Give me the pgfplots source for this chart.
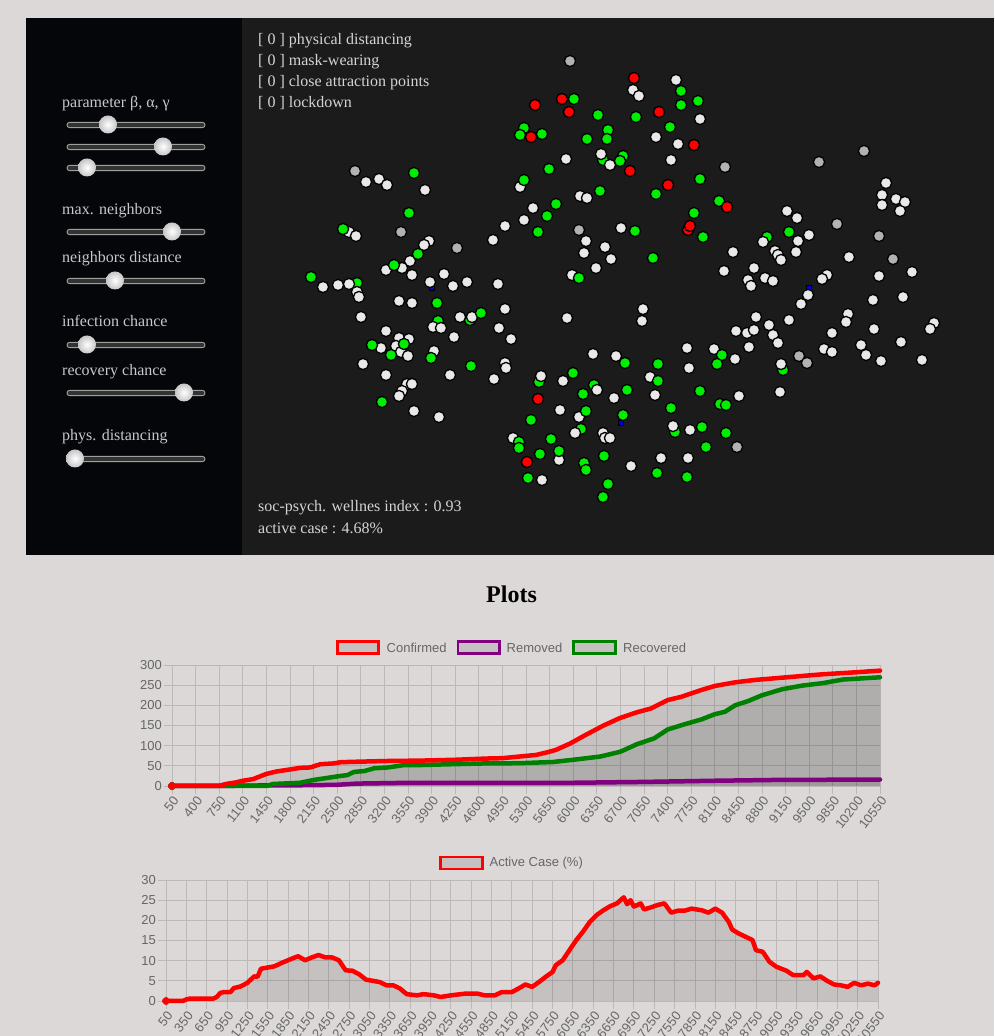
\documentclass[border=0pt]{standalone}
\usepackage{fontspec}
\setmainfont{Liberation Serif}
\newfontfamily\chartfont{Liberation Sans}
\usepackage{pgfplots}
\pgfplotsset{compat=1.18}
\usepackage{pgfplotstable}

\definecolor{bg}{HTML}{DCD8D8}
\definecolor{panelL}{HTML}{04060A}
\definecolor{panelR}{HTML}{1B1B1B}
\definecolor{uitext}{HTML}{D4D4D4}
\definecolor{lefttext}{HTML}{C8C8C8}
\definecolor{gridc}{HTML}{BDB8B8}
\definecolor{tickc}{HTML}{666666}
\definecolor{ptwhite}{HTML}{E8E8E8}
\definecolor{ptgray}{HTML}{B2B2B2}
\definecolor{ptgreen}{HTML}{00EE00}
\definecolor{ptred}{HTML}{FF0000}
\definecolor{ptblue}{HTML}{0000DD}
\definecolor{cgreen}{HTML}{008000}
\definecolor{cpurple}{HTML}{800080}

\pgfkeys{/pgf/number format/.cd,1000 sep={}}

\pgfplotstableread{
x y
366 182
379 179
387 185
425 190
349 232
356 236
429 241
424 245
493 240
410 261
386 270
402 268
412 275
444 274
430 282
453 286
467 282
498 284
323 287
338 285
349 284
633 90
639 96
676 80
700 119
656 137
678 144
566 159
601 154
610 165
671 160
520 187
580 196
587 198
533 208
524 220
505 226
621 228
586 241
584 253
605 247
611 259
733 252
596 268
572 275
724 271
748 280
886 183
882 195
896 199
905 202
882 205
900 211
787 211
797 218
809 235
763 242
798 241
775 251
778 255
781 260
796 252
849 257
754 268
765 278
773 281
751 286
827 275
822 279
879 276
912 272
357 292
359 297
399 301
412 303
361 317
386 331
433 327
441 328
460 317
472 317
454 337
499 328
381 348
399 338
409 339
396 346
401 352
408 356
434 351
363 364
386 375
450 375
494 379
407 384
412 384
402 391
399 396
414 411
439 417
505 309
567 318
643 309
642 321
511 339
736 331
747 333
749 347
593 354
616 356
687 348
714 349
735 359
689 368
505 363
506 368
541 376
563 381
650 377
597 390
614 398
655 395
739 396
560 410
579 417
575 433
673 426
690 430
513 438
603 433
605 438
610 438
559 460
631 466
661 458
688 458
542 480
808 295
801 304
873 300
903 297
756 317
789 320
848 314
846 322
934 323
930 329
769 325
754 330
773 335
778 343
832 333
874 329
824 349
832 352
861 345
866 355
881 361
901 342
922 360
781 364
780 392
}\tabWhite

\pgfplotstableread{
x y
570 61
355 171
401 232
457 248
579 230
725 167
864 151
819 162
837 224
879 236
893 259
799 356
807 363
737 447
}\tabGray

\pgfplotstableread{
x y
357 283
438 321
470 320
783 370
767 237
675 432
603 160
594 385
581 429
539 382
}\tabGreenUnder

\pgfplotstableread{
x y
414 173
409 213
343 229
418 254
394 265
311 277
681 91
681 105
698 101
574 99
598 115
636 117
670 127
524 128
520 135
542 134
608 130
607 139
587 139
549 169
623 156
620 161
524 180
700 179
656 194
600 191
556 204
547 216
538 232
635 231
719 201
694 213
703 237
653 258
579 278
789 232
437 303
481 313
372 345
404 344
391 355
431 358
471 366
382 402
625 363
722 355
717 364
658 364
573 373
658 381
583 394
627 390
700 391
720 404
726 405
671 408
586 411
531 420
623 415
702 427
726 433
519 442
519 448
551 439
559 451
540 454
604 456
706 447
584 463
586 470
657 473
687 477
528 478
608 484
603 497
}\tabGreen

\pgfplotstableread{
x y
688 230
634 78
535 105
562 99
569 112
659 112
531 137
694 145
630 171
668 185
727 207
690 226
538 399
527 462
}\tabRed

\pgfplotstableread{
x y
432 288
809 288
621 423
}\tabBlue

\pgfplotstableread{
x y
50 0
400 0
750 0.5
850 5
1000 9
1100 13
1250 17
1450 30
1600 36
1800 41
1950 45
2100 46
2250 54
2450 56
2550 59
2750 60
3250 62
3750 63
4250 65
4700 68
4950 69
5200 73
5450 77
5650 85
5750 90
5950 105
6200 128
6450 150
6700 169
6950 183
7150 192
7400 213
7600 221
7900 238
8100 248
8400 257
8700 263
9200 270
9700 277
10200 282
10550 286
}\tabConfirmed

\pgfplotstableread{
x y
50 0
1450 0
1550 5
1950 8
2150 15
2350 20
2550 25
2650 27
2750 35
2900 37
3050 44
3250 46
3500 52
3750 52
4200 54
4700 56
5200 56.5
5700 59.5
6050 66
6400 73
6700 85
6950 104
7200 118
7400 140
7650 153
7900 165
8100 178
8250 184
8400 200
8600 211
8800 225
9100 240
9400 249
9700 255
10000 264
10300 267
10550 269.5
}\tabRecovered

\pgfplotstableread{
x y
50 0
800 0
1100 1
1600 1.5
2150 2
2500 3
2800 6
3200 7
3600 8
6000 8
7000 10
8100 13
9000 15
10550 16
}\tabRemoved

\pgfplotstableread{
x y
50 0
300 0
350 0.4
400 0.6
750 0.6
800 1
850 2
900 2.2
1000 2.2
1050 3.2
1150 3.6
1250 4.5
1350 6.1
1400 6
1450 8
1550 8.3
1650 8.6
1750 9.4
1850 10.1
1950 10.8
2000 11.1
2100 10.1
2200 10.8
2300 11.4
2400 10.8
2500 10.8
2600 10.1
2700 7.6
2800 7.5
2900 6.6
3000 5.3
3100 5
3200 4.7
3300 3.9
3400 3.9
3500 3.1
3600 1.7
3750 1.4
3850 1.7
4000 1.4
4100 1
4250 1.4
4450 1.8
4650 1.8
4750 1.4
4900 1.4
5000 2.2
5150 2.2
5250 3.1
5350 4.1
5450 3.5
5550 4.7
5650 6
5750 7.2
5800 8.9
5900 10.1
6000 12.6
6100 15.1
6200 17.2
6300 19.6
6400 21.3
6500 22.5
6600 23.5
6700 24.2
6800 25.7
6850 24
6900 25
6950 23.4
7050 24.2
7100 22.7
7200 23.2
7300 23.8
7400 24.2
7500 21.9
7600 22.4
7700 22.4
7800 22.9
7950 22.5
8050 21.9
8150 22.9
8250 21.9
8350 19.6
8400 17.7
8500 16.7
8600 15.9
8700 15.1
8750 12.6
8850 12.2
8950 9.7
9050 8.5
9200 7.5
9300 6.4
9450 6.4
9500 7.2
9600 5.6
9700 6.1
9800 5
9900 4.1
10000 3.9
10100 3.5
10200 4.5
10300 3.9
10400 4.3
10500 3.9
10550 4.5
}\tabActive

\pgfplotsset{
  chart/.style={
    scale only axis,
    grid=major,
    grid style={gridc, line width=0.8pt},
    axis line style={gridc, line width=0.8pt},
    tick style={gridc, line width=0.8pt},
    tick align=outside,
    major tick length=8pt,
    tick pos=left,
    scaled ticks=false,
    /pgf/number format/assume math mode=true,
    ticklabel style={font=\chartfont\fontsize{13}{15}\selectfont, text=tickc},
    xticklabel style={rotate=52, anchor=north east, inner sep=1pt},
    yticklabel style={inner sep=2pt},
  },
  pts/.style={only marks, mark=*, mark size=5.6pt,
    mark options={fill=#1, draw=black, line width=1.3pt}},
  cline/.style={#1, line width=4.5pt, line join=round, line cap=round,
    mark=*, mark repeat=1000, mark size=1.8pt, mark options={fill=#1}},
}

\newcommand\slider[2]{%
  \draw[line width=0.9pt, draw=gray!75, fill=black!80, rounded corners=2.5pt]
    (67,#1-2.6) rectangle (205,#1+2.6);
  \shade[inner color=white, outer color=gray!45] (#2,#1+0.5) circle (9);
}

\begin{document}
\begin{tikzpicture}[x=1pt,y=1pt]
\path[use as bounding box] (0,0) rectangle (994,1036);
\clip (0,0) rectangle (994,1036);
\fill[bg] (0,0) rectangle (994,1036);
\fill[panelL] (26,481) rectangle (242,1018);
\fill[panelR] (242,481) rectangle (994,1018);

% left panel
\begin{scope}[every node/.style={anchor=base west, inner sep=0pt, text=lefttext,
   font=\fontsize{16}{19}\selectfont}]
\node at (62,928) {parameter β, α, γ};
\node at (62,821) {max. neighbors};
\node at (62,773) {neighbors distance};
\node at (62,709) {infection chance};
\node at (62,660) {recovery chance};
\node at (62,595) {phys. distancing};
\end{scope}
\slider{911}{108}
\slider{889}{163}
\slider{868}{87}
\slider{804}{172}
\slider{755}{115}
\slider{691}{87}
\slider{643}{184}
\slider{577}{75}

% scatter panel texts
\begin{scope}[every node/.style={anchor=base west, inner sep=0pt, text=uitext,
   font=\fontsize{16}{19}\selectfont}]
\node at (258,991) {[ 0 ] physical distancing};
\node at (258,970) {[ 0 ] mask-wearing};
\node at (258,949) {[ 0 ] close attraction points};
\node at (258,928) {[ 0 ] lockdown};
\node at (258,524) {soc-psych. wellnes index : 0.93};
\node at (258,502) {active case : 4.68\%};
\end{scope}

\begin{axis}[at={(242pt,481pt)}, anchor=south west, scale only axis,
  width=752pt, height=537pt, xmin=242, xmax=994, ymin=18, ymax=555,
  y dir=reverse, hide axis, clip=false]
\addplot[only marks, mark=square*, mark size=2.6pt, mark options={fill=ptblue, draw=none}] table {\tabBlue};
\addplot[pts=ptgreen] table {\tabGreenUnder};
\addplot[pts=ptwhite] table {\tabWhite};
\addplot[pts=ptgray] table {\tabGray};
\addplot[pts=ptgreen] table {\tabGreen};
\addplot[pts=ptred] table {\tabRed};
\end{axis}

\node[font=\bfseries\fontsize{24}{28}\selectfont, text=black] at (511.5,442) {Plots};

% chart 1
\begin{axis}[chart, at={(172pt,250pt)}, anchor=south west,
  width=708pt, height=121pt, xmin=50, xmax=10550, ymin=0, ymax=300,
  xtick={50,400,...,10550}, ytick={0,50,...,300}, clip=false]
\addplot[draw=none, fill=black, fill opacity=0.1] table {\tabRemoved} \closedcycle;
\addplot[draw=none, fill=black, fill opacity=0.1] table {\tabRecovered} \closedcycle;
\addplot[draw=none, fill=black, fill opacity=0.1] table {\tabConfirmed} \closedcycle;
\addplot[cline=cpurple] table {\tabRemoved};
\addplot[cline=cgreen] table {\tabRecovered};
\addplot[cline=ptred] table {\tabConfirmed};
\end{axis}
\begin{scope}[every node/.style={anchor=west, inner sep=0pt, text=tickc,
   font=\chartfont\fontsize{13}{15}\selectfont}]
\draw[draw=ptred, line width=2.6pt, fill=black, fill opacity=0.1] (337.5,382.5) rectangle (378.5,394.5);
\node at (386.5,388.5) {Confirmed};
\draw[draw=cpurple, line width=2.6pt, fill=black, fill opacity=0.1] (458,382.5) rectangle (499.5,394.5);
\node at (506.5,388.5) {Removed};
\draw[draw=cgreen, line width=2.6pt, fill=black, fill opacity=0.1] (573.5,382.5) rectangle (615.5,394.5);
\node at (623,388.5) {Recovered};
\draw[draw=ptred, line width=2.6pt, fill=black, fill opacity=0.1] (440.5,167) rectangle (482.5,179);
\node at (489.5,173) {Active Case (\%)};
\end{scope}

% chart 2
\begin{axis}[chart, at={(166pt,35pt)}, anchor=south west,
  width=712pt, height=121pt, xmin=50, xmax=10550, ymin=0, ymax=30,
  xtick={50,350,...,10550}, ytick={0,5,...,30}, clip=false]
\addplot[draw=none, fill=black, fill opacity=0.1] table {\tabActive} \closedcycle;
\addplot[cline=ptred] table {\tabActive};
\end{axis}
\end{tikzpicture}
\end{document}
